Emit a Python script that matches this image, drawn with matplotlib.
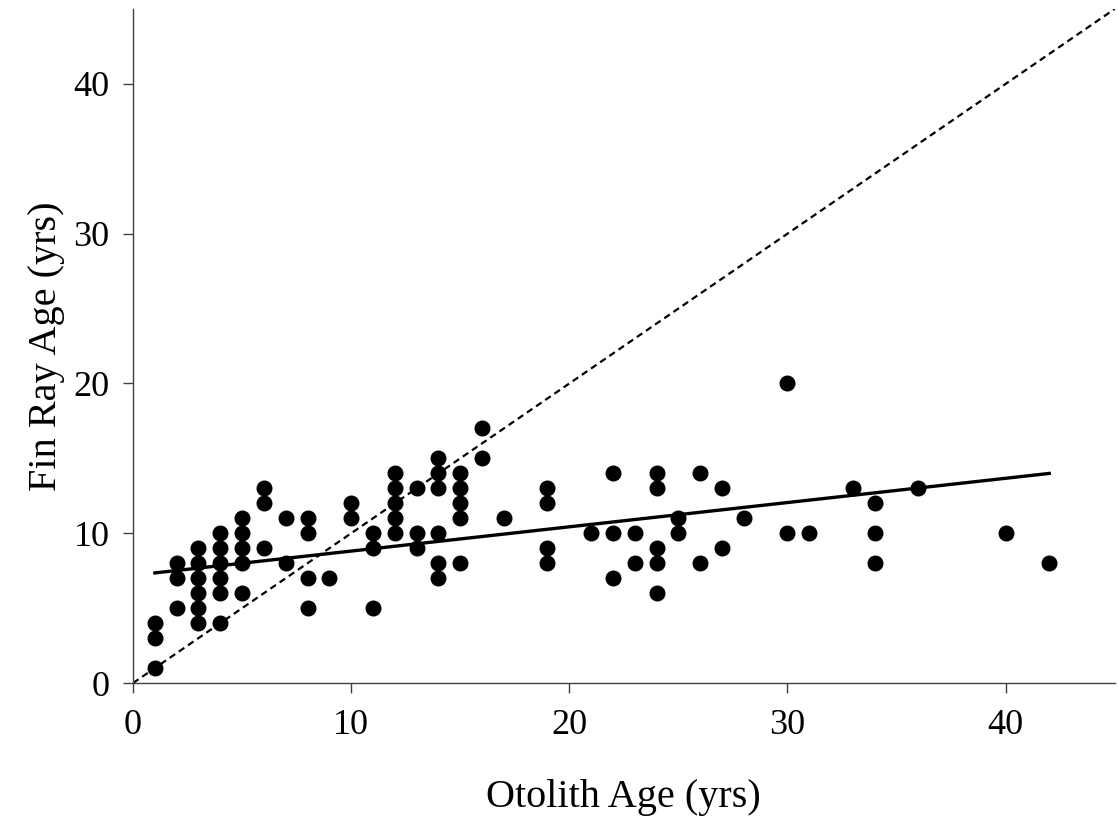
import numpy as np
import matplotlib.pyplot as plt

plt.rcParams['font.family'] = ['Liberation Serif', 'DejaVu Serif']

# Otolith age vs fin ray age, one dot per fish
otolith = [1, 1, 1,
           2, 2, 2,
           3, 3, 3, 3, 3, 3,
           4, 4, 4, 4, 4, 4,
           5, 5, 5, 5, 5,
           6, 6, 6,
           7, 7,
           8, 8, 8, 8,
           9,
           10, 10,
           11, 11, 11,
           12, 12, 12, 12, 12,
           13, 13, 13,
           14, 14, 14, 14, 14, 14,
           15, 15, 15, 15, 15,
           16, 16,
           17,
           19, 19, 19, 19,
           21,
           22, 22, 22,
           23, 23,
           24, 24, 24, 24, 24,
           25, 25,
           26, 26,
           27, 27,
           28,
           30, 30,
           31,
           33,
           34, 34, 34,
           36,
           40,
           42]
finray = [4, 3, 1,
          8, 7, 5,
          9, 8, 7, 6, 5, 4,
          10, 9, 8, 7, 6, 4,
          11, 10, 9, 8, 6,
          13, 12, 9,
          11, 8,
          11, 10, 7, 5,
          7,
          12, 11,
          10, 9, 5,
          14, 13, 12, 11, 10,
          13, 10, 9,
          15, 14, 13, 10, 8, 7,
          14, 13, 12, 11, 8,
          17, 15,
          11,
          13, 12, 9, 8,
          10,
          14, 10, 7,
          10, 8,
          14, 13, 9, 8, 6,
          11, 10,
          14, 8,
          13, 9,
          11,
          20, 10,
          10,
          13,
          12, 10, 8,
          13,
          10,
          8]

# fitted line
slope = 0.162
intercept = 7.19

fig = plt.figure(figsize=(11.18, 8.19), dpi=100)
ax = fig.add_axes([0.119, 0.166, 0.878, 0.823])

ax.plot([0, 45], [0, 45], color='black', lw=1.6, ls=(0, (3, 2)))
xf = np.array([min(otolith), max(otolith)])
ax.plot(xf, intercept + slope * xf, color='black', lw=2.4)
ax.plot(otolith, finray, 'o', color='black', ms=10.5, ls='none')

ax.set_xlim(0, 45)
ax.set_ylim(0, 45)
ax.set_xticks([0, 10, 20, 30, 40])
ax.set_yticks([0, 10, 20, 30, 40])

for s in ['top', 'right']:
    ax.spines[s].set_visible(False)
for s in ['left', 'bottom']:
    ax.spines[s].set_color('#404040')
    ax.spines[s].set_linewidth(1.0)

ax.tick_params(direction='out', length=7, width=1.0, color='#404040',
               labelsize=26)
ax.tick_params(axis='x', pad=12)
ax.tick_params(axis='y', pad=10)

ax.set_xlabel('Otolith Age (yrs)', fontsize=29, labelpad=26)
ax.set_ylabel('Fin Ray Age (yrs)', fontsize=29, labelpad=6)

fig.savefig('out.png', dpi=100)
